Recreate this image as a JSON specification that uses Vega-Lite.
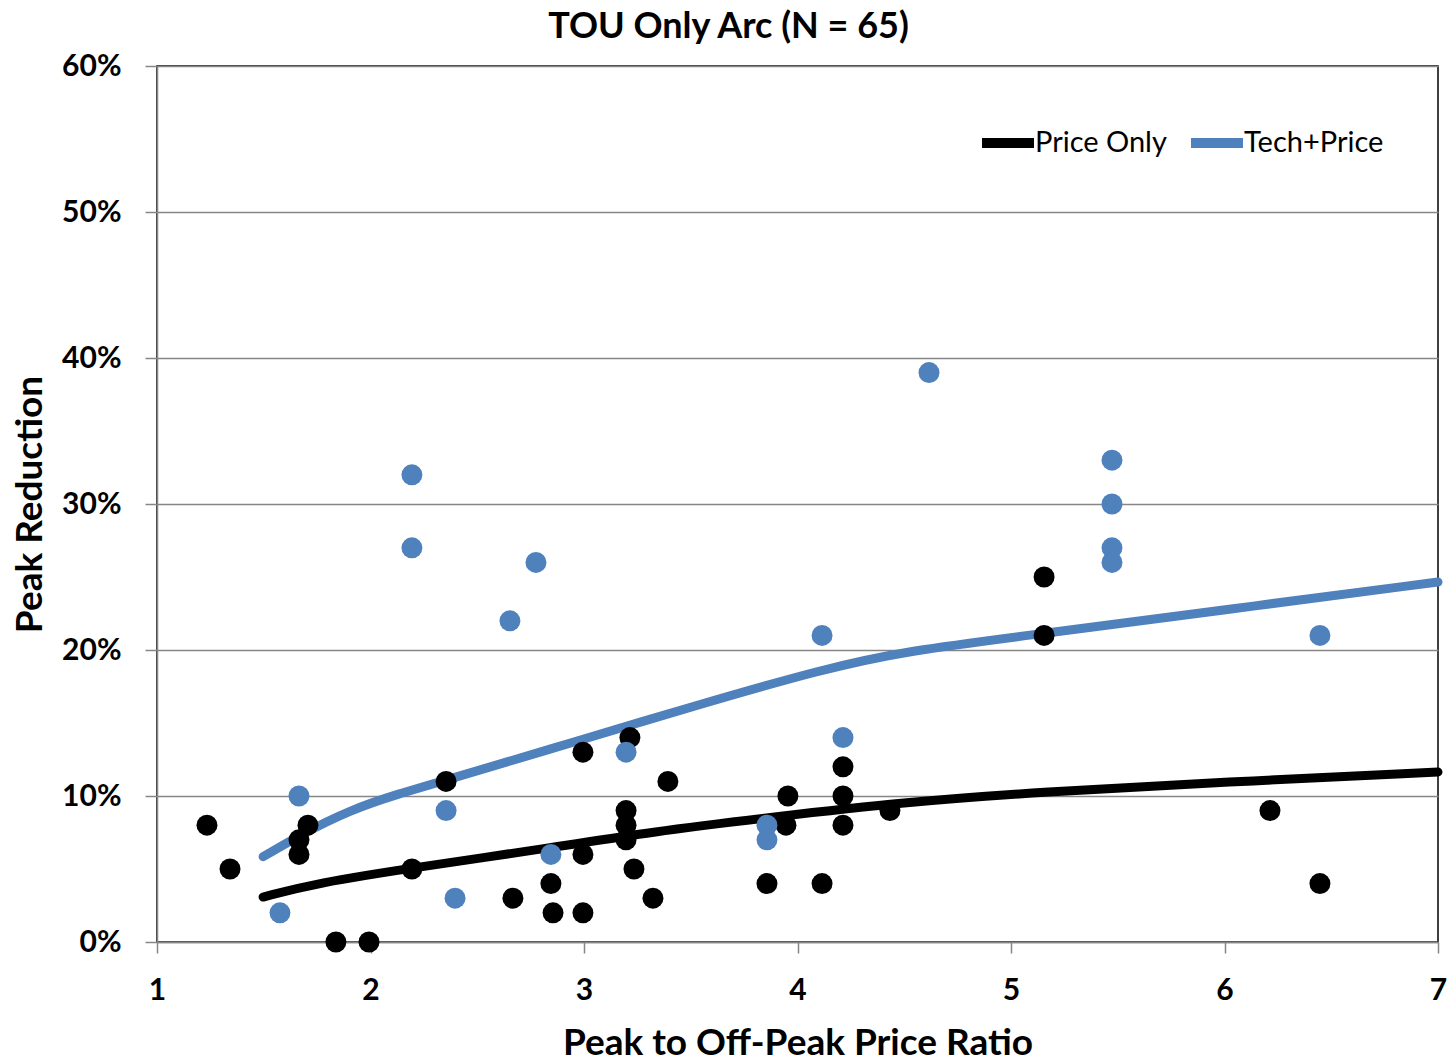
{
  "$schema": "https://vega.github.io/schema/vega-lite/v6.json",
  "width": 1281,
  "height": 876,
  "autosize": {"type": "none"},
  "padding": {"left": 157, "top": 66, "right": 11, "bottom": 119},
  "background": "white",
  "title": {
    "text": "TOU Only Arc (N = 65)",
    "font": "Lato",
    "fontSize": 36,
    "fontWeight": "bold",
    "color": "#000000",
    "anchor": "middle",
    "dx": -69,
    "offset": 5
  },
  "datasets": {
    "points": [
      {"series": "Price Only", "ratio": 1.234, "reduction": 0.08},
      {"series": "Price Only", "ratio": 1.342, "reduction": 0.05},
      {"series": "Price Only", "ratio": 1.665, "reduction": 0.07},
      {"series": "Price Only", "ratio": 1.665, "reduction": 0.06},
      {"series": "Price Only", "ratio": 1.707, "reduction": 0.08},
      {"series": "Price Only", "ratio": 1.838, "reduction": 0.0},
      {"series": "Price Only", "ratio": 1.993, "reduction": 0.0},
      {"series": "Price Only", "ratio": 2.194, "reduction": 0.05},
      {"series": "Price Only", "ratio": 2.354, "reduction": 0.11},
      {"series": "Price Only", "ratio": 2.667, "reduction": 0.03},
      {"series": "Price Only", "ratio": 2.845, "reduction": 0.04},
      {"series": "Price Only", "ratio": 2.855, "reduction": 0.02},
      {"series": "Price Only", "ratio": 2.995, "reduction": 0.13},
      {"series": "Price Only", "ratio": 2.995, "reduction": 0.06},
      {"series": "Price Only", "ratio": 2.995, "reduction": 0.02},
      {"series": "Price Only", "ratio": 3.197, "reduction": 0.09},
      {"series": "Price Only", "ratio": 3.197, "reduction": 0.08},
      {"series": "Price Only", "ratio": 3.197, "reduction": 0.07},
      {"series": "Price Only", "ratio": 3.215, "reduction": 0.14},
      {"series": "Price Only", "ratio": 3.234, "reduction": 0.05},
      {"series": "Price Only", "ratio": 3.323, "reduction": 0.03},
      {"series": "Price Only", "ratio": 3.393, "reduction": 0.11},
      {"series": "Price Only", "ratio": 3.857, "reduction": 0.04},
      {"series": "Price Only", "ratio": 3.955, "reduction": 0.10},
      {"series": "Price Only", "ratio": 3.946, "reduction": 0.08},
      {"series": "Price Only", "ratio": 4.115, "reduction": 0.04},
      {"series": "Price Only", "ratio": 4.213, "reduction": 0.12},
      {"series": "Price Only", "ratio": 4.213, "reduction": 0.10},
      {"series": "Price Only", "ratio": 4.213, "reduction": 0.08},
      {"series": "Price Only", "ratio": 4.433, "reduction": 0.09},
      {"series": "Price Only", "ratio": 5.155, "reduction": 0.25},
      {"series": "Price Only", "ratio": 5.155, "reduction": 0.21},
      {"series": "Price Only", "ratio": 6.213, "reduction": 0.09},
      {"series": "Price Only", "ratio": 6.447, "reduction": 0.04},
      {"series": "Tech+Price", "ratio": 1.576, "reduction": 0.02},
      {"series": "Tech+Price", "ratio": 1.665, "reduction": 0.10},
      {"series": "Tech+Price", "ratio": 2.194, "reduction": 0.32},
      {"series": "Tech+Price", "ratio": 2.194, "reduction": 0.27},
      {"series": "Tech+Price", "ratio": 2.354, "reduction": 0.09},
      {"series": "Tech+Price", "ratio": 2.396, "reduction": 0.03},
      {"series": "Tech+Price", "ratio": 2.653, "reduction": 0.22},
      {"series": "Tech+Price", "ratio": 2.775, "reduction": 0.26},
      {"series": "Tech+Price", "ratio": 2.845, "reduction": 0.06},
      {"series": "Tech+Price", "ratio": 3.197, "reduction": 0.13},
      {"series": "Tech+Price", "ratio": 3.857, "reduction": 0.08},
      {"series": "Tech+Price", "ratio": 3.857, "reduction": 0.07},
      {"series": "Tech+Price", "ratio": 4.115, "reduction": 0.21},
      {"series": "Tech+Price", "ratio": 4.213, "reduction": 0.14},
      {"series": "Tech+Price", "ratio": 4.616, "reduction": 0.39},
      {"series": "Tech+Price", "ratio": 5.473, "reduction": 0.33},
      {"series": "Tech+Price", "ratio": 5.473, "reduction": 0.30},
      {"series": "Tech+Price", "ratio": 5.473, "reduction": 0.27},
      {"series": "Tech+Price", "ratio": 5.473, "reduction": 0.26},
      {"series": "Tech+Price", "ratio": 6.447, "reduction": 0.21}
    ],
    "curves": [
      {"series": "Price Only", "ratio": 1.497, "reduction": 0.0308},
      {"series": "Price Only", "ratio": 1.749, "reduction": 0.0404},
      {"series": "Price Only", "ratio": 2.194, "reduction": 0.0507},
      {"series": "Price Only", "ratio": 2.841, "reduction": 0.0644},
      {"series": "Price Only", "ratio": 3.309, "reduction": 0.0753},
      {"series": "Price Only", "ratio": 3.885, "reduction": 0.0856},
      {"series": "Price Only", "ratio": 4.513, "reduction": 0.0959},
      {"series": "Price Only", "ratio": 5.136, "reduction": 0.1027},
      {"series": "Price Only", "ratio": 6.0, "reduction": 0.1095},
      {"series": "Price Only", "ratio": 7.0, "reduction": 0.1164},
      {"series": "Tech+Price", "ratio": 1.497, "reduction": 0.0584},
      {"series": "Tech+Price", "ratio": 1.67, "reduction": 0.0733},
      {"series": "Tech+Price", "ratio": 1.904, "reduction": 0.0905},
      {"series": "Tech+Price", "ratio": 2.138, "reduction": 0.1018},
      {"series": "Tech+Price", "ratio": 2.356, "reduction": 0.111},
      {"series": "Tech+Price", "ratio": 3.0, "reduction": 0.139},
      {"series": "Tech+Price", "ratio": 3.5, "reduction": 0.161},
      {"series": "Tech+Price", "ratio": 4.12, "reduction": 0.187},
      {"series": "Tech+Price", "ratio": 4.513, "reduction": 0.1995},
      {"series": "Tech+Price", "ratio": 5.136, "reduction": 0.211},
      {"series": "Tech+Price", "ratio": 6.0, "reduction": 0.2275},
      {"series": "Tech+Price", "ratio": 7.0, "reduction": 0.2466}
    ]
  },
  "encoding": {
    "x": {
      "field": "ratio",
      "type": "quantitative",
      "scale": {"domain": [1, 7], "nice": false},
      "axis": {
        "title": "Peak to Off-Peak Price Ratio",
        "values": [1, 2, 3, 4, 5, 6, 7],
        "format": "d",
        "grid": false,
        "labelFlush": false,
        "domainColor": "#868686",
        "domainWidth": 1.5,
        "tickColor": "#868686",
        "tickWidth": 1.5,
        "tickSize": 11,
        "labelPadding": 22,
        "labelFont": "Lato",
        "labelFontSize": 30,
        "labelFontWeight": "bold",
        "labelColor": "#000000",
        "titleFont": "Lato",
        "titleFontSize": 37,
        "titleFontWeight": "bold",
        "titleColor": "#000000",
        "titlePadding": 20
      }
    },
    "y": {
      "field": "reduction",
      "type": "quantitative",
      "scale": {"domain": [0, 0.6], "nice": false},
      "axis": {
        "title": "Peak Reduction",
        "values": [0, 0.1, 0.2, 0.3, 0.4, 0.5, 0.6],
        "format": ".0%",
        "grid": true,
        "gridColor": "#868686",
        "gridWidth": 1.5,
        "domainColor": "#868686",
        "domainWidth": 1.5,
        "tickColor": "#868686",
        "tickWidth": 1.5,
        "tickSize": 12,
        "labelPadding": 24,
        "labelFont": "Lato",
        "labelFontSize": 30,
        "labelFontWeight": "bold",
        "labelColor": "#000000",
        "titleFont": "Lato",
        "titleFontSize": 37,
        "titleFontWeight": "bold",
        "titleColor": "#000000",
        "titlePadding": 12
      }
    }
  },
  "layer": [
    {
      "data": {"name": "curves"},
      "mark": {"type": "line", "strokeWidth": 9, "strokeCap": "round", "interpolate": "basis"},
      "encoding": {
        "color": {
          "field": "series",
          "type": "nominal",
          "scale": {"domain": ["Price Only", "Tech+Price"], "range": ["#000000", "#4F81BD"]},
          "legend": {
            "title": null,
            "orient": "none",
            "direction": "horizontal",
            "legendX": 820,
            "legendY": 46,
            "symbolType": "stroke",
            "symbolSize": 2704,
            "symbolStrokeWidth": 10,
            "labelFont": "Lato",
            "labelFontSize": 29,
            "labelColor": "#000000",
            "labelOffset": -4,
            "columnPadding": 4,
            "padding": 0
          }
        }
      }
    },
    {
      "data": {"name": "points"},
      "mark": {"type": "circle", "size": 440, "opacity": 1, "strokeWidth": 0},
      "encoding": {
        "fill": {
          "field": "series",
          "type": "nominal",
          "scale": {"domain": ["Price Only", "Tech+Price"], "range": ["#000000", "#4F81BD"]},
          "legend": null
        }
      }
    }
  ],
  "config": {
    "view": {"stroke": "#000000", "strokeWidth": 1.5},
    "font": "Lato"
  }
}
